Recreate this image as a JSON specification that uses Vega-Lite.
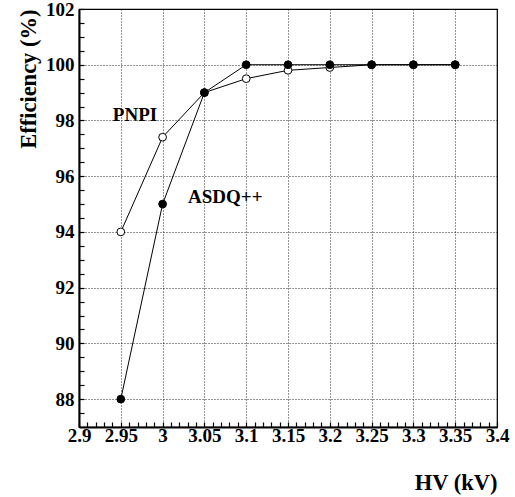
{
  "$schema": "https://vega.github.io/schema/vega-lite/v6.json",
  "width": 418,
  "height": 418,
  "autosize": {"type": "none"},
  "padding": {"left": 79, "top": 9, "right": 18, "bottom": 70},
  "background": "white",
  "config": {
    "view": {"stroke": "#000", "strokeWidth": 1.2},
    "font": "Liberation Serif"
  },
  "data": {"values": [
      {"hv": 2.95, "eff": 94.0, "series": "PNPI"},
      {"hv": 3.00, "eff": 97.4, "series": "PNPI"},
      {"hv": 3.05, "eff": 99.0, "series": "PNPI"},
      {"hv": 3.10, "eff": 99.5, "series": "PNPI"},
      {"hv": 3.15, "eff": 99.8, "series": "PNPI"},
      {"hv": 3.20, "eff": 99.9, "series": "PNPI"},
      {"hv": 3.25, "eff": 100.0, "series": "PNPI"},
      {"hv": 3.30, "eff": 100.0, "series": "PNPI"},
      {"hv": 3.35, "eff": 100.0, "series": "PNPI"},
      {"hv": 2.95, "eff": 88.0, "series": "ASDQ++"},
      {"hv": 3.00, "eff": 95.0, "series": "ASDQ++"},
      {"hv": 3.05, "eff": 99.0, "series": "ASDQ++"},
      {"hv": 3.10, "eff": 100.0, "series": "ASDQ++"},
      {"hv": 3.15, "eff": 100.0, "series": "ASDQ++"},
      {"hv": 3.20, "eff": 100.0, "series": "ASDQ++"},
      {"hv": 3.25, "eff": 100.0, "series": "ASDQ++"},
      {"hv": 3.30, "eff": 100.0, "series": "ASDQ++"},
      {"hv": 3.35, "eff": 100.0, "series": "ASDQ++"}
  ]},
  "encoding": {
    "x": {
      "field": "hv", "type": "quantitative",
      "scale": {"domain": [2.9, 3.4], "nice": false, "zero": false},
      "axis": {
        "orient": "bottom",
        "values": [2.9, 2.91, 2.92, 2.93, 2.94, 2.95, 2.96, 2.97, 2.98, 2.99, 3.0, 3.01, 3.02, 3.03, 3.04, 3.05, 3.06, 3.07, 3.08, 3.09, 3.1, 3.11, 3.12, 3.13, 3.14, 3.15, 3.16, 3.17, 3.18, 3.19, 3.2, 3.21, 3.22, 3.23, 3.24, 3.25, 3.26, 3.27, 3.28, 3.29, 3.3, 3.31, 3.32, 3.33, 3.34, 3.35, 3.36, 3.37, 3.38, 3.39, 3.4],
        "labelExpr": "(round(datum.value * 100) % 5) == 0 ? format(datum.value, '.2~f') : ''",
        "labelOverlap": false, "labelFlush": false,
        "ticks": true, "tickColor": "#000", "tickWidth": 1.2, "tickSize": -5,
        "grid": true, "gridColor": "#000", "gridDash": [1, 2], "gridWidth": 1,
        "gridOpacity": {"condition": {"test": "(round(datum.value * 100) % 5) == 0", "value": 0.85}, "value": 0},
        "domain": true, "domainColor": "#000", "domainWidth": 2,
        "labelFont": "Liberation Serif", "labelFontWeight": "bold", "labelFontSize": 19,
        "labelColor": "#000", "labelPadding": 4,
        "title": "HV (kV)",
        "titleFont": "Liberation Serif", "titleFontWeight": "bold", "titleFontSize": 22.5,
        "titleColor": "#000", "titleAnchor": "end", "titleAlign": "right",
        "titleBaseline": "alphabetic", "titleX": 418, "titleY": 62
      }
    },
    "y": {
      "field": "eff", "type": "quantitative",
      "scale": {"domain": [87, 102], "nice": false, "zero": false},
      "axis": {
        "orient": "left",
        "values": [87.5, 88, 88.5, 89, 89.5, 90, 90.5, 91, 91.5, 92, 92.5, 93, 93.5, 94, 94.5, 95, 95.5, 96, 96.5, 97, 97.5, 98, 98.5, 99, 99.5, 100, 100.5, 101, 101.5, 102],
        "labelExpr": "(datum.value % 2) == 0 ? format(datum.value, 'd') : ''",
        "labelOverlap": false, "labelFlush": false,
        "ticks": true, "tickColor": "#000", "tickWidth": 1.2, "tickSize": -5,
        "grid": true, "gridColor": "#000", "gridDash": [1, 2], "gridWidth": 1,
        "gridOpacity": {"condition": {"test": "(datum.value % 2) == 0", "value": 0.85}, "value": 0},
        "domain": true, "domainColor": "#000", "domainWidth": 2,
        "labelFont": "Liberation Serif", "labelFontWeight": "bold", "labelFontSize": 19,
        "labelColor": "#000", "labelPadding": 10,
        "title": "Efficiency (%)",
        "titleFont": "Liberation Serif", "titleFontWeight": "bold", "titleFontSize": 22.5,
        "titleColor": "#000", "titleAnchor": "end", "titleAlign": "right", "titleAngle": -90,
        "titleBaseline": "alphabetic", "titleX": -44, "titleY": 0
      }
    }
  },
  "layer": [
    {
      "mark": {"type": "line", "color": "#000", "strokeWidth": 1},
      "encoding": {"detail": {"field": "series"}}
    },
    {
      "mark": {"type": "point", "shape": "circle", "size": 60, "stroke": "#000", "strokeWidth": 1, "opacity": 1},
      "encoding": {
        "fill": {
          "field": "series", "type": "nominal",
          "scale": {"domain": ["ASDQ++", "PNPI"], "range": ["#000", "#fff"]},
          "legend": null
        }
      }
    },
    {
      "data": {"values": [
        {"hv": 2.967, "eff": 97.98, "label": "PNPI"},
        {"hv": 3.075, "eff": 95.04, "label": "ASDQ++"}
      ]},
      "mark": {"type": "text", "font": "Liberation Serif", "fontWeight": "bold", "fontSize": 19, "color": "#000", "align": "center", "baseline": "alphabetic"},
      "encoding": {"text": {"field": "label"}}
    }
  ]
}
